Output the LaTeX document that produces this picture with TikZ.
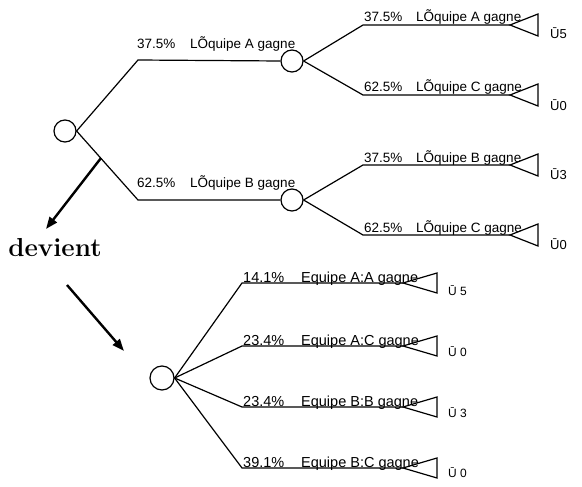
\documentclass[tikz,border=0pt]{standalone}
\usepackage{fontspec}
\newfontfamily\arial{Liberation Sans}
\usetikzlibrary{arrows.meta,positioning}
% terminal triangle: apex, width, half height
\newcommand{\leaf}[3]{\draw[branch] (#1) -- ++(#2,-#3) -- ++(0,{2*#3}) -- cycle;}

\begin{document}
\begin{tikzpicture}[x=1pt,y=-1pt,
every node/.style={font=\arial\fontsize{13.5}{15}\selectfont,inner sep=0pt},
chance/.style={draw,circle,minimum size=22pt,line width=1.2pt},
branch/.style={line width=1.2pt,line join=miter},
lbl/.style={anchor=base west},
lblb/.style={anchor=base west,font=\arial\fontsize{14.5}{16}\selectfont},
pay/.style={anchor=west,font=\arial\fontsize{13}{15}\selectfont},
payb/.style={anchor=west,font=\arial\fontsize{12}{14}\selectfont},
big/.style={-{Triangle[length=12pt,width=9pt]},line width=2.4pt}
]
\useasboundingbox (0,0) rectangle (582,487);

% first tree
\node[chance] (r) at (65,131) {};
\node[chance] (na) at (292,61) {};
\node[chance] (nb) at (292,200) {};
\coordinate (ra) at (138,60);
\coordinate (rb) at (138,200);
\draw[branch] (r.east) -- (ra) -- (na.west);
\draw[branch] (r.east) -- (rb) -- (nb.west);
\node[lbl] (pa) at (137,49) {37.5\%};
\node[lbl] (ea) at (190,49) {LÕquipe A gagne};
\node[lbl] (pb) at (137,188) {62.5\%};
\node[lbl] (eb) at (190,188) {LÕquipe B gagne};

\coordinate (aa) at (363,25);  \coordinate (la) at (510,25);
\coordinate (ac) at (363,95);  \coordinate (lc) at (510,95);
\coordinate (bb) at (363,165); \coordinate (lb) at (510,165);
\coordinate (bc) at (363,235); \coordinate (ld) at (510,235);
\draw[branch] (na.east) -- (aa) -- (la);
\draw[branch] (na.east) -- (ac) -- (lc);
\draw[branch] (nb.east) -- (bb) -- (lb);
\draw[branch] (nb.east) -- (bc) -- (ld);
\leaf{la}{28}{11}
\leaf{lc}{28}{11}
\leaf{lb}{28}{11}
\leaf{ld}{28}{11}
\node[lbl] (paa) at (364,22) {37.5\%};
\node[lbl] (eaa) at (416,22) {LÕquipe A gagne};
\node[lbl] (pac) at (364,92) {62.5\%};
\node[lbl] (eac) at (416,92) {LÕquipe C gagne};
\node[lbl] (pbb) at (364,162) {37.5\%};
\node[lbl] (ebb) at (416,162) {LÕquipe B gagne};
\node[lbl] (pbc) at (364,232) {62.5\%};
\node[lbl] (ebc) at (416,232) {LÕquipe C gagne};
\node[pay] (va) at (550,33) {Ū5};
\node[pay] (vc) at (550,105) {Ū0};
\node[pay] (vb) at (550,174) {Ū3};
\node[pay] (vd) at (550,244) {Ū0};

% devient
\coordinate (s1) at (101,158);
\coordinate (t1) at (46,229);
\draw[big] (s1) -- (t1);
\node[font=\rmfamily\fontsize{26}{30}\selectfont\bfseries] (dev) at (55,248) {devient};
\coordinate (s2) at (67,285);
\coordinate (t2) at (124,351);
\draw[big] (s2) -- (t2);

% second tree
\node[chance,minimum size=24pt] (q) at (162,378) {};
\foreach \y/\n in {283/1,346/2,407/3,468/4}{
  \coordinate (k\n) at (242,\y);
  \coordinate (m\n) at (403,\y);
  \draw[branch] (q.east) -- (k\n) -- (m\n);
  \leaf{m\n}{34}{10}
}
\node[lblb] (q1) at (243,282) {14.1\%};
\node[lblb] (f1) at (301,282) {Equipe A:A gagne};
\node[lblb] (q2) at (243,345) {23.4\%};
\node[lblb] (f2) at (301,345) {Equipe A:C gagne};
\node[lblb] (q3) at (243,406) {23.4\%};
\node[lblb] (f3) at (301,406) {Equipe B:B gagne};
\node[lblb] (q4) at (243,467) {39.1\%};
\node[lblb] (f4) at (301,467) {Equipe B:C gagne};
\node[payb] (w1) at (448,291) {Ū 5};
\node[payb] (w2) at (448,352) {Ū 0};
\node[payb] (w3) at (448,413) {Ū 3};
\node[payb] (w4) at (448,473) {Ū 0};
\end{tikzpicture}
\end{document}
